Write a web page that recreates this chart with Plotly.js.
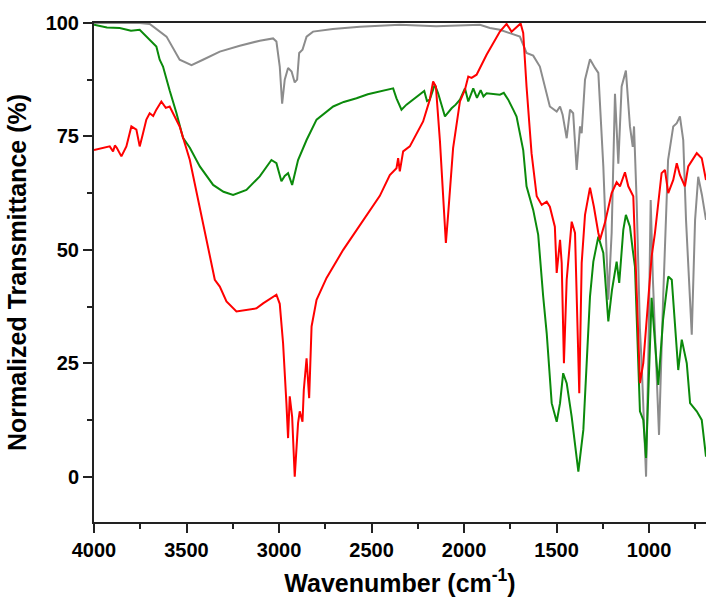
<!DOCTYPE html>
<html>
<head>
<meta charset="utf-8">
<script src="https://cdn.plot.ly/plotly-3.0.1.min.js"></script>
<style>html,body{margin:0;padding:0;background:#fff;}#chart{width:706px;height:608px;}</style>
</head>
<body>
<div id="chart"></div>
<script>
// Gray spectrum
const grayWn = [4000,3753,3699,3608,3537,3473,3411,3320,3212,3104,3032,3014,2996,2983,2969,2951,2932,2915,2902,2891,2873,2851,2816,2709,2563,2347,2150,1914,1860,1806,1698,1662,1626,1590,1536,1499,1481,1467,1445,1427,1410,1391,1373,1364,1346,1319,1292,1274,1247,1220,1202,1184,1166,1148,1125,1103,1088,1081,1067,1049,1040,1016,1003,991,979,946,924,897,869,850,833,815,800,769,751,734,714,692];
const grayT  = [100,100,99.8,97.0,91.9,90.7,91.9,93.7,95.0,96.1,96.6,95.9,90.4,82.2,87.5,90.1,89.3,86.9,87.5,93.4,94.1,97.0,98.1,98.7,99.2,99.6,99.3,99.6,98.9,98.5,97.0,93.4,92.8,90.4,81.6,80.5,81.6,79.8,74.6,80.9,80.1,67.6,77.2,75.7,87.5,92.0,90.1,89.0,68.4,39.0,53.7,84.4,69.0,86.0,89.5,77.2,72.7,77.2,61.0,32.4,25.1,0.0,28.0,61.0,43.4,9.2,39.0,69.8,77.2,77.9,79.4,74.2,56.6,31.3,56.6,66.1,62.1,56.6];

// Green spectrum
const greenWn = [4000,3930,3861,3800,3753,3735,3699,3663,3645,3627,3591,3554,3519,3482,3428,3356,3300,3248,3176,3104,3041,3014,2987,2969,2951,2929,2897,2851,2797,2707,2650,2581,2520,2455,2383,2365,2338,2311,2239,2215,2200,2185,2158,2140,2103,2067,2045,2022,1995,1977,1950,1930,1910,1895,1878,1806,1785,1761,1734,1716,1680,1662,1626,1599,1572,1553,1526,1499,1481,1464,1445,1418,1382,1355,1337,1319,1301,1274,1247,1220,1200,1175,1161,1139,1125,1103,1088,1076,1049,1031,1016,986,950,924,896,877,842,823,796,778,742,715,692];
const greenT  = [99.6,99.0,98.9,98.3,98.5,97.8,96.3,94.8,91.9,90.4,85.1,80.1,74.7,72.5,68.4,64.3,62.8,62.1,63.2,66.2,69.8,69.1,65.1,66.3,66.9,64.3,69.8,74.2,78.7,81.6,82.6,83.4,84.3,84.9,85.6,83.4,80.9,82.0,84.2,85.0,82.8,83.1,86.4,84.5,79.4,81.2,82.0,83.1,85.6,82.7,85.6,83.5,85.2,83.8,84.5,84.2,84.6,83.1,80.9,79.4,72.0,64.0,58.8,53.3,39.7,31.6,16.2,12.1,16.2,22.8,20.6,13.2,1.1,10.3,25.0,39.7,47.4,52.9,49.3,34.2,41.2,47.4,42.7,54.4,57.7,55.1,50.0,46.3,14.4,12.5,4.1,39.4,20.2,34.6,44.1,43.4,23.5,30.2,25.0,16.2,14.4,12.5,4.4];

// Red spectrum
const redWn = [4000,3950,3915,3897,3887,3877,3852,3825,3798,3771,3753,3735,3717,3699,3680,3663,3636,3612,3591,3564,3537,3482,3428,3374,3347,3320,3284,3230,3176,3122,3086,3014,2996,2978,2960,2951,2942,2929,2915,2897,2888,2873,2866,2851,2837,2824,2797,2743,2653,2545,2455,2401,2365,2356,2347,2329,2293,2221,2185,2167,2152,2130,2113,2098,2086,2059,2022,1995,1977,1959,1932,1878,1806,1770,1743,1719,1694,1680,1662,1635,1607,1580,1553,1536,1509,1499,1481,1472,1460,1445,1418,1400,1387,1377,1364,1346,1319,1298,1274,1265,1238,1202,1175,1157,1130,1112,1085,1067,1049,1031,1004,986,968,932,914,896,869,850,833,806,788,742,715,692];
const redT  = [72.0,72.5,72.8,71.7,73.0,72.5,70.6,72.8,77.2,76.5,72.8,75.7,78.7,80.1,79.5,80.9,82.7,81.3,81.6,79.4,77.2,69.8,59.5,49.3,43.4,41.9,38.6,36.4,36.8,37.1,38.2,40.1,38.1,29.4,16.2,8.5,17.7,13.2,0.0,11.8,14.4,12.1,19.1,26.1,17.3,33.1,39.0,43.8,50.0,56.6,61.9,66.5,68.0,70.2,67.3,71.7,72.8,78.3,83.1,87.1,86.0,73.9,61.4,51.5,57.7,72.4,82.7,85.3,88.2,87.9,88.6,93.0,98.1,99.8,98.1,98.9,99.9,97.8,86.0,71.3,61.8,59.9,60.6,59.5,55.1,44.9,52.2,47.1,25.0,43.4,56.2,53.7,34.6,18.4,47.1,57.7,63.7,59.5,53.7,52.2,56.0,62.5,64.9,64.0,67.1,64.0,61.8,39.7,20.6,25.0,39.7,48.5,53.7,66.9,67.6,62.5,65.4,69.1,66.5,64.0,68.4,71.3,70.2,65.4];

const xTickVals = [4000,3500,3000,2500,2000,1500,1000];
const yTickVals = [0,25,50,75,100];

const traces = [
  {x: grayWn, y: grayT, mode: 'lines', line: {color: '#8c8c8c', width: 2}, name: 'gray'},
  {x: greenWn, y: greenT, mode: 'lines', line: {color: '#0b8a0b', width: 2}, name: 'green'},
  {x: redWn, y: redT, mode: 'lines', line: {color: '#ff0000', width: 2}, name: 'red'}
];

const fontFam = '"Liberation Sans", Arial, sans-serif';
const layout = {
  width: 706, height: 608,
  margin: {l: 94, r: 0, t: 23, b: 86},
  paper_bgcolor: '#fff', plot_bgcolor: '#fff',
  showlegend: false,
  font: {family: fontFam, color: '#000'},
  xaxis: {
    range: [4000, 692], autorange: false,
    tickvals: xTickVals, ticktext: xTickVals.map(String),
    ticks: 'outside', ticklen: 9, tickwidth: 2, tickcolor: '#222',
    minor: {dtick: 250, tick0: 0, ticks: 'outside', ticklen: 5, tickwidth: 2, tickcolor: '#222'},
    showline: true, linecolor: '#222', linewidth: 2, mirror: true,
    showgrid: false, zeroline: false,
    tickfont: {family: fontFam, size: 20, weight: 'bold', color: '#000'},
    title: {text: 'Wavenumber (cm<sup>-1</sup>)', font: {family: fontFam, size: 25, weight: 'bold', color: '#000'}, standoff: 14}
  },
  yaxis: {
    range: [-10, 100], autorange: false,
    tickvals: yTickVals, ticktext: yTickVals.map(String),
    ticks: 'outside', ticklen: 9, tickwidth: 2, tickcolor: '#222',
    minor: {dtick: 12.5, tick0: 0, ticks: 'outside', ticklen: 5, tickwidth: 2, tickcolor: '#222'},
    showline: true, linecolor: '#222', linewidth: 2,
    showgrid: false, zeroline: false,
    tickfont: {family: fontFam, size: 20, weight: 'bold', color: '#000'},
    title: {text: 'Normalized Transmittance (%)', font: {family: fontFam, size: 25, weight: 'bold', color: '#000'}, standoff: 12}
  }
};

Plotly.newPlot('chart', traces, layout, {displayModeBar: false, staticPlot: true});
</script>
</body>
</html>
